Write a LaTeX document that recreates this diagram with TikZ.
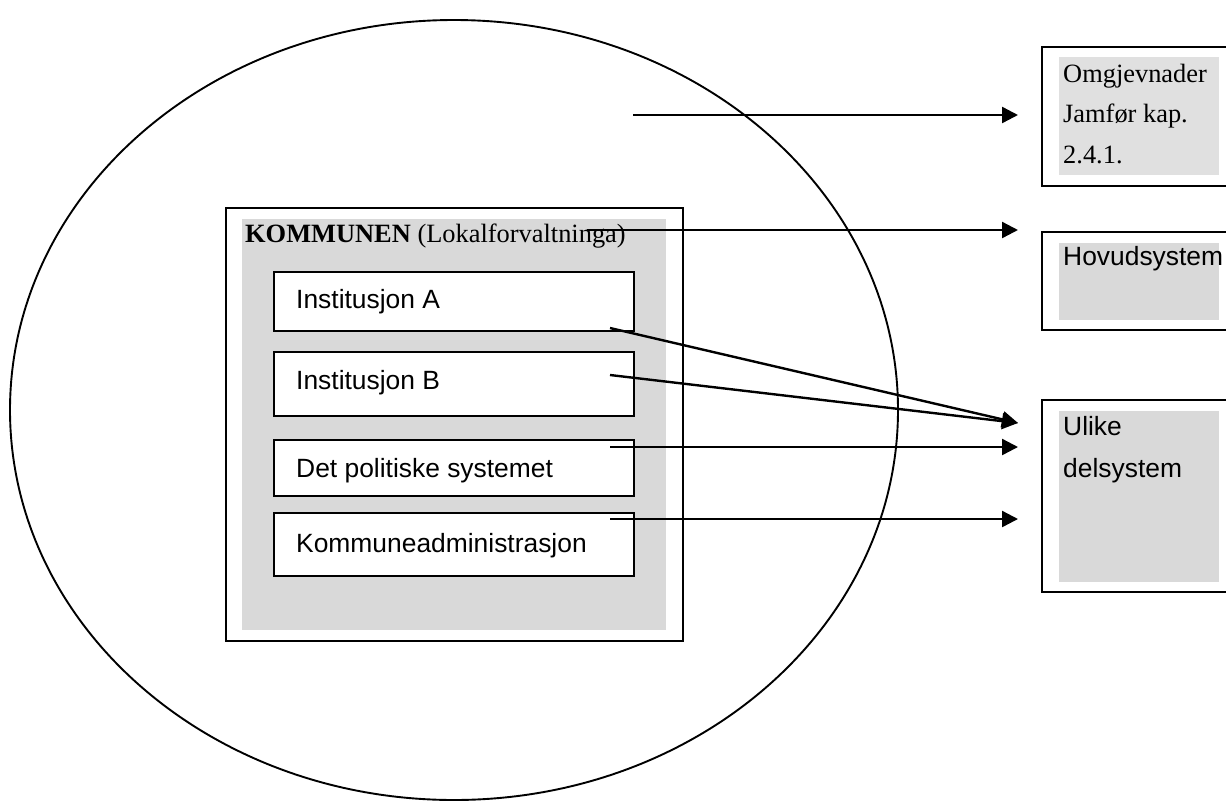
\documentclass[tikz,border=0pt]{standalone}
\usepackage{fontspec}
\setmainfont{Liberation Serif}
\newfontfamily\arialfont{Liberation Sans}
\usetikzlibrary{arrows.meta,shapes.geometric}
\definecolor{panelgray}{HTML}{D9D9D9}
\definecolor{lightpanel}{HTML}{E0E0E0}
\begin{document}
\begin{tikzpicture}[x=1pt,y=-1pt,
  frame/.style={draw=black,line width=2.2pt,fill=white,inner sep=0pt,outer sep=0pt},
  panel/.style={fill=#1,draw=none,inner sep=0pt,outer sep=0pt},
  unitbox/.style={draw=black,fill=white,line width=2pt,inner sep=0pt,outer sep=0pt},
  link/.style={line width=2.4pt,-{Triangle[length=16pt,width=16pt]}},
  serif/.style={font=\fontsize{26.4}{40}\selectfont,inner sep=0pt,anchor=base west},
  sans/.style={font=\arialfont\fontsize{26.4}{40}\selectfont,inner sep=0pt,anchor=base west},
]
\useasboundingbox (0,0) rectangle (1226,801);
\clip (0,0) rectangle (1226,801);

% surrounding environment
\node[ellipse,draw=black,line width=1.9pt,minimum width=888pt,minimum height=780pt,inner sep=0pt] (env) at (454,410) {};

% the municipality
\node[frame,minimum width=457pt,minimum height=433pt] (kommune) at (454.5,424.5) {};
\node[panel=panelgray,minimum width=424pt,minimum height=411pt] (kommunepanel) at (454,424.5) {};
\node[serif] (kommunetxt) at (245,242) {\textbf{KOMMUNEN} (Lokalforvaltninga)};

\node[unitbox,minimum width=360pt,minimum height=59pt] (instA) at (454,301.5) {};
\node[sans] (instAtxt) at (296,308) {Institusjon A};
\node[unitbox,minimum width=360pt,minimum height=64pt] (instB) at (454,384) {};
\node[sans] (instBtxt) at (296,389) {Institusjon B};
\node[unitbox,minimum width=360pt,minimum height=56pt] (pol) at (454,468) {};
\node[sans] (poltxt) at (296,477) {Det politiske systemet};
\node[unitbox,minimum width=360pt,minimum height=63pt] (adm) at (454,544.5) {};
\node[sans] (admtxt) at (296,552) {Kommuneadministrasjon};

% systems on the right
\node[frame,minimum width=198pt,minimum height=139pt] (omg) at (1141,116.5) {};
\node[panel=lightpanel,minimum width=160pt,minimum height=118pt] (omgpanel) at (1139,116) {};
\node[serif] (omgtxt1) at (1063,82) {Omgjevnader};
\node[serif] (omgtxt2) at (1063,122) {Jamfør kap.};
\node[serif] (omgtxt3) at (1063,163) {2.4.1.};

\node[frame,minimum width=198pt,minimum height=98pt] (hov) at (1141,281) {};
\node[panel=panelgray,minimum width=160pt,minimum height=77pt] (hovpanel) at (1139,281.5) {};
\node[sans] (hovtxt) at (1063,265) {Hovudsystem};

\node[frame,minimum width=198pt,minimum height=192pt] (del) at (1141,496) {};
\node[panel=panelgray,minimum width=160pt,minimum height=171pt] (delpanel) at (1139,496.5) {};
\node[sans] (deltxt1) at (1063,435) {Ulike};
\node[sans] (deltxt2) at (1063,477) {delsystem};

% connector end points
\coordinate (envsrc) at (633,115);
\coordinate (envdst) at (1018,115);
\coordinate (komsrc) at (587,230);
\coordinate (komdst) at (1018,230);
\coordinate (instAsrc) at (610,328);
\coordinate (instBsrc) at (610,375);
\coordinate (instdst) at (1018,423);
\coordinate (polsrc) at (610,447);
\coordinate (poldst) at (1018,447);
\coordinate (admsrc) at (610,519);
\coordinate (admdst) at (1018,519);

\draw[link] (envsrc) -- (envdst);
\draw[link] (komsrc) -- (komdst);
\draw[link] (instAsrc) -- (instdst);
\draw[link] (instBsrc) -- (instdst);
\draw[link] (polsrc) -- (poldst);
\draw[link] (admsrc) -- (admdst);
\end{tikzpicture}
\end{document}
